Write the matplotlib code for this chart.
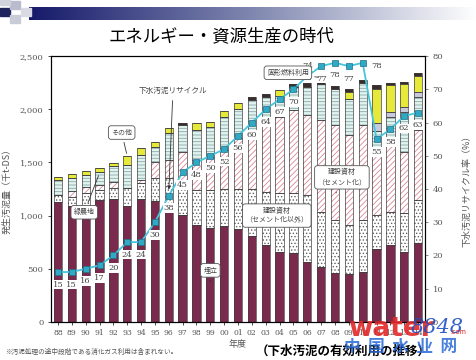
import matplotlib
matplotlib.use("Agg")
import matplotlib.pyplot as plt
import numpy as np

plt.rcParams['font.family'] = ['Noto Sans CJK JP', 'DejaVu Sans']
plt.rcParams['hatch.linewidth'] = 0.6

years = ['88', '89', '90', '91', '92', '93', '94', '95', '96', '97', '98', '99',
         '00', '01', '02', '03', '04', '05', '06', '07', '08', '09', '10', '11',
         '12', '13', '14']

# 千t-DS, stacked from the bottom
landfill = [1128, 1090, 1081, 1147, 1156, 1090, 1156, 1137, 1040, 1006, 912, 884,
            902, 874, 808, 724, 658, 649, 564, 517, 461, 451, 470, 686, 724, 658, 743]
constr_other = [66, 85, 128, 94, 104, 170, 150, 217, 314, 294, 329, 357,
                348, 376, 442, 498, 555, 560, 626, 517, 498, 461, 489, 320, 310, 367, 404]
cement = [0, 56, 60, 47, 56, 0, 30, 150, 169, 298, 282, 310,
          367, 480, 527, 677, 714, 784, 760, 865, 893, 846, 893, 594, 666, 575, 658]
green = [141, 123, 113, 122, 150, 215, 234, 145, 254, 254, 282, 282,
         310, 272, 310, 216, 197, 216, 259, 338, 343, 338, 395, 200, 227, 374, 310]
energy = [0, 0, 0, 0, 0, 0, 0, 0, 0, 0, 0, 0,
          0, 0, 0, 0, 0, 0, 0, 0, 0, 0, 0, 71, 47, 47, 47]
other = [28, 37, 37, 37, 29, 85, 65, 43, 47, 0, 66, 47,
         56, 57, 0, 0, 57, 0, 0, 0, 0, 66, 0, 319, 254, 216, 150]
fuel = [0, 0, 0, 0, 0, 0, 0, 0, 0, 19, 0, 0,
        0, 0, 28, 28, 0, 28, 38, 19, 24, 28, 28, 40, 19, 19, 28]

# リサイクル率 %
rate = [15, 15, 16, 17, 20, 24, 24, 30, 38, 45, 48, 50, 52, 56, 60, 64, 67, 70,
        74, 77, 78, 77, 78, 55, 58, 62, 63]

fig = plt.figure(figsize=(4.77, 3.6), dpi=100)

# header band
hdr = fig.add_axes([0.06, 0.945, 0.94, 0.036])
grad = np.linspace(0, 1, 256).reshape(1, -1)
hdr.imshow(grad, aspect='auto', cmap=matplotlib.colors.LinearSegmentedColormap.from_list(
    'h', ['#161a6a', '#8088b0', '#ffffff']))
hdr.axis('off')
for (x0, y0, c) in [(0.0, 0.955, '#20245e'), (0.022, 0.975, '#b8bccc'),
                    (0.022, 0.935, '#c8ccd8'), (0.044, 0.955, '#d8dae4'),
                    (0.0, 0.985, '#d0d2dc')]:
    fig.patches.append(plt.Rectangle((x0, y0), 0.02, 0.022, transform=fig.transFigure,
                                     color=c, zorder=5))

fig.text(0.465, 0.9, 'エネルギー・資源生産の時代', ha='center', va='center', fontsize=12.5)

ax = fig.add_axes([0.107, 0.106, 0.784, 0.738])
x = np.arange(len(years))
w = 0.6

segs = [
    (landfill, '#7a2a4c', None, '#7a2a4c'),
    (constr_other, 'white', '.....', '#606060'),
    (cement, 'white', '//////', '#d88898'),
    (green, '#dff3ef', '-----', '#90a8a8'),
    (energy, '#c8cadc', None, '#c8cadc'),
    (other, '#e6e83a', None, '#e6e83a'),
    (fuel, '#3a2c2c', None, '#3a2c2c'),
]
bottom = np.zeros(len(years))
for vals, fc, hatch, hc in segs:
    vals = np.array(vals, dtype=float)
    ax.bar(x, vals, w, bottom=bottom, color=fc, hatch=hatch, edgecolor=hc, linewidth=0)
    ax.bar(x, vals, w, bottom=bottom, fill=False, edgecolor='#404040', linewidth=0.5)
    bottom += vals

ax.set_xlim(-0.5, len(years) - 0.5)
ax.set_ylim(0, 2500)
ax.set_yticks([0, 500, 1000, 1500, 2000, 2500])
ax.set_yticklabels(['0', '500', '1,000', '1,500', '2,000', '2,500'],
                   fontsize=6, family='DejaVu Serif', color='#555555')
ax.set_xticks(x)
ax.set_xticklabels(years, fontsize=5.5, family='DejaVu Serif', color='#555555')
ax.tick_params(length=2, width=0.5)
ax.set_xlabel('年度', fontsize=6.5, color='#555555', labelpad=2)
ax.set_ylabel('発生汚泥量（千t-DS）', fontsize=6.5, color='#555555', labelpad=6)
for s in ax.spines.values():
    s.set_linewidth(0.8)

ax2 = ax.twinx()
ax2.set_ylim(0, 80)
ax2.set_yticks(range(0, 81, 10))
ax2.tick_params(labelsize=6, length=2, width=0.5, colors='#555555')
for t in ax2.get_yticklabels():
    t.set_family('DejaVu Serif')
ax2.set_ylabel('下水汚泥リサイクル率（%）', fontsize=6.5, color='#555555', labelpad=14)
ax2.plot(x, rate, color='#46c6dc', lw=1.3, marker='s', ms=4.2,
         mfc='#30aac4', mec='#20708a', mew=0.5, zorder=5)

for i, r in enumerate(rate):
    if years[i] == '06':
        off = (0, 7)
    elif years[i] == '10':
        off = (10, -2)
    else:
        off = (0, -9)
    ax2.annotate(str(r), (i, r), xytext=off, textcoords='offset points',
                 ha='center', va='center', fontsize=6, family='DejaVu Serif',
                 color='#444444', zorder=6,
                 bbox=dict(boxstyle='square,pad=0.1', fc='white', ec='none'))

box = dict(boxstyle='round,pad=0.4', fc='white', ec='#555555', lw=0.6)
arr = dict(arrowstyle='-', color='#333333', lw=0.6)

ax2.annotate('その他', xy=(5, 1560 * 80 / 2500), xytext=(4.6, 57), fontsize=5,
             ha='center', va='center', bbox=box, arrowprops=arr, color='#444444', zorder=7)
ax2.annotate('緑農地', xy=(3, 1400 * 80 / 2500), xytext=(1.9, 33), fontsize=5,
             ha='center', va='center', bbox=box, arrowprops=arr, color='#444444', zorder=7)
ax2.annotate('下水汚泥リサイクル', xy=(8, 39), xytext=(8.3, 69.5), fontsize=5.5,
             ha='center', va='center', color='#444444', zorder=7,
             arrowprops=dict(arrowstyle='-|>', color='#333333', lw=0.6, mutation_scale=5))
ax2.annotate('固形燃料利用', xy=(19, 73.5), xytext=(16.6, 75), fontsize=5,
             ha='center', va='center', bbox=box, arrowprops=arr, color='#444444', zorder=7)
ax2.annotate('建設資材\n（セメント化）', xy=(20, 38), xytext=(20.5, 43.5), fontsize=5,
             ha='center', va='center', bbox=box, arrowprops=arr, color='#444444',
             zorder=7, linespacing=1.3)
ax2.annotate('建設資材\n（セメント化以外）', xy=(16, 27), xytext=(15.8, 32), fontsize=5,
             ha='center', va='center', bbox=box, arrowprops=arr, color='#444444',
             zorder=7, linespacing=1.3)
ax2.annotate('埋立', xy=(11, 12), xytext=(11, 15.5), fontsize=5,
             ha='center', va='center', bbox=box, arrowprops=arr, color='#444444', zorder=7)

fig.text(0.01, 0.022, '※汚泥処理の途中段階である消化ガス利用は含まれない。', fontsize=4.8,
         color='#555555', va='center')
fig.text(0.72, 0.025, '（下水汚泥の有効利用の推移）', fontsize=9, fontweight='bold',
         ha='center', va='center')

# watermark
fig.text(0.73, 0.085, 'water', fontsize=19, fontweight='bold', color='#e02828',
         family='DejaVu Sans', va='center', alpha=0.9)
fig.text(0.86, 0.09, '8848', fontsize=15, style='italic', color='#2050c0',
         family='DejaVu Serif', va='center', alpha=0.9)
fig.text(0.945, 0.077, '.com', fontsize=5, color='#e02828', va='center')
fig.text(0.84, 0.035, '中  国  水  业  网', fontsize=12, fontweight='bold', color='#2a6ad8',
         ha='center', va='center', alpha=0.85)

fig.savefig('out.png', dpi=100, facecolor='white')
